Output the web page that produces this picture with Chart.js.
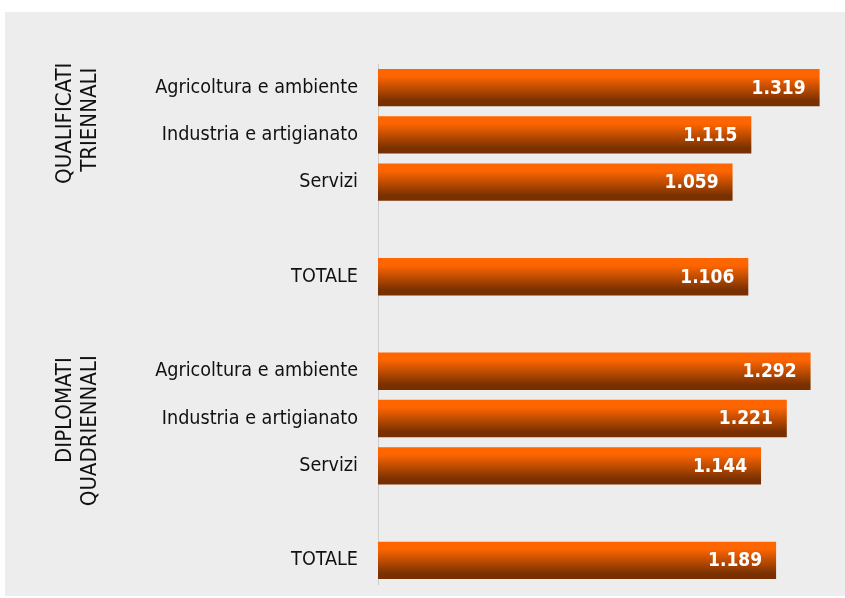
<!DOCTYPE html>
<html>
<head>
<meta charset="utf-8">
<script src="https://cdn.jsdelivr.net/npm/chart.js@4.4.1/dist/chart.umd.min.js"></script>
<style>
  html, body { margin: 0; padding: 0; background: #ffffff; }
  #wrap { position: relative; width: 845px; height: 598px; }
</style>
</head>
<body>
<div id="wrap"><canvas id="c" width="845" height="598"></canvas></div>
<script>
const categories = [
  'Agricoltura e ambiente', 'Industria e artigianato', 'Servizi', '', 'TOTALE', '',
  'Agricoltura e ambiente', 'Industria e artigianato', 'Servizi', '', 'TOTALE'
];
const values = [1.319, 1.115, 1.059, null, 1.106, null, 1.292, 1.221, 1.144, null, 1.189];
const valueLabels = ['1.319', '1.115', '1.059', '', '1.106', '', '1.292', '1.221', '1.144', '', '1.189'];
const groupNames = [['QUALIFICATI', 'TRIENNALI'], ['DIPLOMATI', 'QUADRIENNALI']];
const groupAnchors = [0, 6];

const FONT = '"DejaVu Sans Condensed", "DejaVu Sans", sans-serif';

const bgPlugin = {
  id: 'bg',
  beforeDraw(chart) {
    const ctx = chart.ctx;
    ctx.save();
    ctx.fillStyle = '#ededed';
    ctx.fillRect(5, 12, chart.width - 5, chart.height - 14);
    ctx.restore();
  }
};

const labelPlugin = {
  id: 'vals',
  afterDatasetsDraw(chart) {
    const ctx = chart.ctx;
    const meta = chart.getDatasetMeta(0);
    ctx.save();
    ctx.fillStyle = '#ffffff';
    ctx.font = 'bold 19px ' + FONT;
    ctx.textAlign = 'right';
    ctx.textBaseline = 'middle';
    meta.data.forEach((el, i) => {
      if (values[i] == null) return;
      ctx.fillText(valueLabels[i], el.x - 14, el.y + 1);
    });
    ctx.restore();
  }
};

const groupPlugin = {
  id: 'groups',
  afterDraw(chart) {
    const ctx = chart.ctx;
    const ys = chart.scales.y;
    // offset of each line's end (top) from its group's anchor category centre
    const endOffsets = [[-25, -20], [-14, -16]];
    ctx.save();
    ctx.fillStyle = '#111111';
    ctx.font = '22px ' + FONT;
    ctx.textAlign = 'right';
    ctx.textBaseline = 'middle';
    groupNames.forEach((lines, g) => {
      const base = ys.getPixelForValue(groupAnchors[g]);
      lines.forEach((t, k) => {
        ctx.save();
        ctx.translate(65 + k * 25, base + endOffsets[g][k]);
        ctx.rotate(-Math.PI / 2);
        ctx.fillText(t, 0, 0);
        ctx.restore();
      });
    });
    ctx.restore();
  }
};

function barGradient(context) {
  const chart = context.chart;
  if (!chart.chartArea) return '#ff6600';
  const ys = chart.scales.y;
  const i = context.dataIndex;
  const cy = ys.getPixelForValue(i);
  const slot = (chart.chartArea.bottom - chart.chartArea.top) / categories.length;
  const h = slot * 0.79;
  const g = chart.ctx.createLinearGradient(0, cy - h / 2, 0, cy + h / 2);
  g.addColorStop(0, '#ff6600');
  g.addColorStop(0.2, '#fd6500');
  g.addColorStop(0.85, '#7a3100');
  g.addColorStop(1, '#762f00');
  return g;
}

new Chart(document.getElementById('c'), {
  type: 'bar',
  data: {
    labels: categories,
    datasets: [{
      data: values,
      backgroundColor: barGradient,
      borderWidth: 0,
      barPercentage: 0.79,
      categoryPercentage: 1.0
    }]
  },
  options: {
    indexAxis: 'y',
    responsive: false,
    animation: false,
    layout: { padding: { left: 0, right: 15, top: 64, bottom: 14 } },
    plugins: { legend: { display: false }, tooltip: { enabled: false } },
    scales: {
      x: { display: false, min: 0, max: 1.35 },
      y: {
        grid: { display: false, drawTicks: false },
        border: { display: true, color: '#cdcdcd', width: 1 },
        ticks: { color: '#111111', font: { family: FONT, size: 19.6 }, padding: 20 },
        afterFit(scale) {
          scale.width = 378;
          scale.paddingTop = 0;
          scale.paddingBottom = 0;
        }
      }
    }
  },
  plugins: [bgPlugin, labelPlugin, groupPlugin]
});
</script>
</body>
</html>
